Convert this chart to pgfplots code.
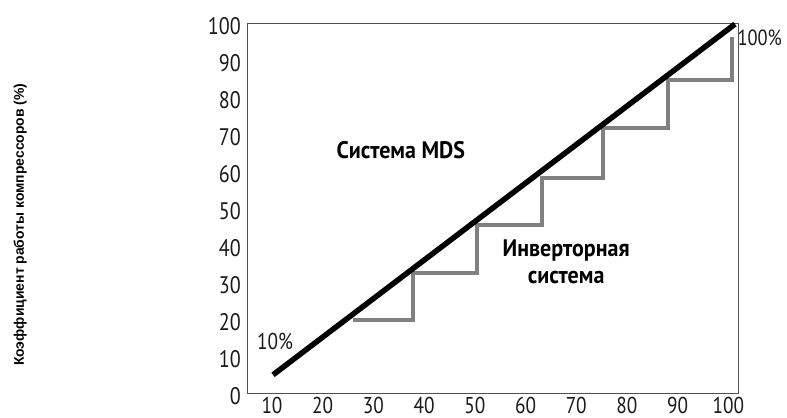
\documentclass[border=0pt]{standalone}
\usepackage{pgfplots}
\pgfplotsset{compat=1.18}
\usepackage{fontspec}
\setmainfont{PT Sans}
\newfontfamily\tickfont[FakeStretch=0.84]{PT Sans}
\newfontfamily\annfont[FakeStretch=0.92]{PT Sans}
\newfontfamily\ylabfont{Liberation Sans}
\definecolor{stepgray}{HTML}{808080}
\definecolor{axgray}{HTML}{505050}
\definecolor{txt}{HTML}{1A1A1A}
\begin{document}
\begin{tikzpicture}
\path[use as bounding box] (0,0) rectangle (787bp,418bp);
\begin{axis}[
  at={(247bp,25bp)}, anchor=south west,
  scale only axis, width=491bp, height=370bp,
  xmin=5.07, xmax=101.9, ymin=0, ymax=100,
  xtick={10,20,...,100}, ytick={0,10,...,100},
  major tick length=0pt,
  axis line style={axgray, line width=0.8bp},
  clip=false,
  /pgf/number format/assume math mode=true,
  ticklabel style={font=\tickfont\fontsize{24}{26}\selectfont, text=txt},
  yticklabel style={anchor=east, inner sep=0pt, xshift=-6bp, yshift=-3bp},
  xticklabel style={anchor=north, inner sep=0pt, text depth=0pt, yshift=-4bp, font=\tickfont\fontsize{23}{24}\selectfont},
  ylabel={Коэффициент работы компрессоров (\%)},
  ylabel style={at={(axis description cs:-0.462,0.455)}, anchor=center, font=\ylabfont\bfseries\fontsize{14}{16}\selectfont},
]
\addplot[stepgray, line width=4bp, line join=miter, line cap=butt] coordinates {
(26.0,19.7)(37.8,19.7)(37.8,32.4)(50.4,32.4)(50.4,45.4)(63.3,45.4)(63.3,58.1)(75.3,58.1)(75.3,71.6)(88.1,71.6)(88.1,84.6)(100.7,84.6)(100.7,96.2)};
\addplot[black, line width=5.5bp, line cap=butt] coordinates {(10.2,4.9)(101.3,99.7)};
\node[font=\annfont\bfseries\fontsize{24}{26}\selectfont] at (axis cs:35.4,65.7) {Система MDS};
\node[font=\annfont\bfseries\fontsize{24}{27}\selectfont, align=center] at (axis cs:68,35.4) {Инверторная\\система};
\node[font=\tickfont\fontsize{23}{24}\selectfont, text=txt] at (axis cs:10.6,14) {10\%};
\node[font=\tickfont\fontsize{22}{24}\selectfont, text=txt] at (axis cs:106.2,95.9) {100\%};
\end{axis}
\end{tikzpicture}
\end{document}
